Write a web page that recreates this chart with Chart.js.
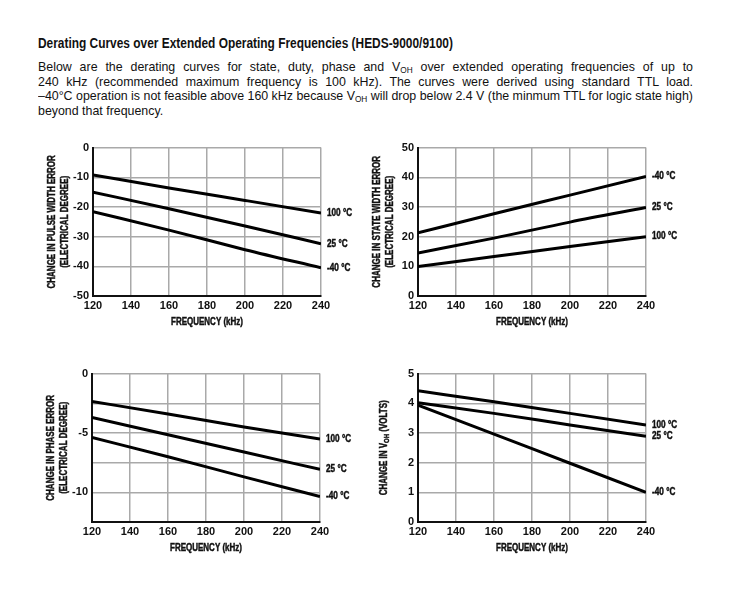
<!DOCTYPE html>
<html>
<head>
<meta charset="utf-8">
<script src="https://cdn.jsdelivr.net/npm/chart.js@4.4.1/dist/chart.umd.min.js"></script>
<style>
  body { margin: 0; background: #fff; color: #111; font-family: "Liberation Sans", Arial, sans-serif; }
  #head { position: absolute; left: 38px; top: 35px; font-weight: bold; font-size: 14px; white-space: nowrap; transform-origin: 0 0; }
  #text { position: absolute; left: 38px; top: 60px; font-size: 13.5px; line-height: 14.7px; transform-origin: 0 0; }
  #text .j { text-align: justify; text-align-last: justify; }
  #text .tight { white-space: nowrap; }
  sub { font-size: 9px; vertical-align: -2px; line-height: 0; }
  canvas { position: absolute; }
</style>
</head>
<body>
<div id="head">Derating Curves over Extended Operating Frequencies (HEDS-9000/9100)</div>
<div id="text">
  <div class="j">Below are the derating curves for state, duty, phase and V<sub>OH</sub> over extended operating frequencies of up to</div>
  <div class="j">240 kHz (recommended maximum frequency is 100 kHz). The curves were derived using standard TTL load.</div>
  <div class="j"><span class="tight" id="longLine">–40°C operation is not feasible above 160 kHz because V<sub>OH</sub> will drop below 2.4 V (the minmum TTL for logic state high)</span></div>
  <div>beyond that frequency.</div>
</div>

<canvas id="pulseChart" width="343" height="191" style="left:23px;top:137px"></canvas>
<canvas id="stateChart" width="343" height="191" style="left:348px;top:137px"></canvas>
<canvas id="phaseChart" width="343" height="191" style="left:22px;top:363px"></canvas>
<canvas id="vohChart" width="343" height="191" style="left:348px;top:363px"></canvas>

<script>
  const freqs = [120, 160, 200, 240];
  const tempLabels = ['100 °C', '25 °C', '-40 °C'];

  const pulse100 = [-9.2, -13.6, -17.8, -22.0];
  const pulse25 = [-15.0, -20.6, -26.4, -32.4];
  const pulseM40 = [-21.6, -27.8, -34.4, -40.5];

  const state100 = [9.9, 13.3, 16.7, 20.0];
  const state25 = [14.5, 19.5, 24.9, 29.8];
  const stateM40 = [21.3, 27.7, 34.0, 40.3];

  const phase100 = [-2.35, -3.4, -4.5, -5.5];
  const phase25 = [-3.7, -5.15, -6.6, -8.07];
  const phaseM40 = [-5.38, -7.0, -8.7, -10.36];

  const voh100 = [4.42, 4.05, 3.66, 3.27];
  const voh25 = [4.02, 3.66, 3.27, 2.89];
  const vohM40 = [3.94, 2.96, 1.98, 1.0];

  const FONT = '"Liberation Sans", Arial, sans-serif';
  const SQUEEZE = 0.8;

  // squeeze the heading and paragraph to the widths of the condensed original
  const head = document.getElementById('head');
  head.style.transform = 'scaleX(' + (415 / head.scrollWidth) + ')';
  const text = document.getElementById('text');
  const longW = document.getElementById('longLine').getBoundingClientRect().width;
  text.style.width = longW + 'px';
  text.style.transform = 'scaleX(' + (655 / longW) + ')';

  function boldText(ctx, s, x, y) {
    ctx.fillText(s, x, y);
    ctx.strokeText(s, x, y);
  }

  // axis titles and curve labels, drawn condensed
  const textPlugin = {
    id: 'yTitle',
    afterDraw(chart, args, opts) {
      const ctx = chart.ctx, a = chart.chartArea;
      const font = 'bold 10px ' + FONT, subFont = 'bold 7.5px ' + FONT;
      ctx.save();
      ctx.fillStyle = '#111';
      ctx.strokeStyle = '#111';
      ctx.lineWidth = 0.45;
      ctx.textBaseline = 'middle';
      ctx.textAlign = 'left';

      // y title (rotated)
      ctx.save();
      ctx.translate(a.left - 34, (a.top + a.bottom) / 2);
      ctx.rotate(-Math.PI / 2);
      ctx.scale(SQUEEZE, 1);
      const n = opts.lines.length;
      opts.lines.forEach((line, i) => {
        const y = (i - (n - 1) / 2) * 13;
        let w = 0;
        line.forEach(seg => { ctx.font = seg.sub ? subFont : font; w += ctx.measureText(seg.t).width; });
        let x = -w / 2;
        line.forEach(seg => {
          ctx.font = seg.sub ? subFont : font;
          boldText(ctx, seg.t, x, y + (seg.sub ? 3 : 0));
          x += ctx.measureText(seg.t).width;
        });
      });
      ctx.restore();

      // x title
      ctx.save();
      ctx.translate((a.left + a.right) / 2, a.bottom + 26);
      ctx.scale(SQUEEZE, 1);
      ctx.font = font;
      ctx.textAlign = 'center';
      boldText(ctx, 'FREQUENCY (kHz)', 0, 0);
      ctx.restore();

      // temperature labels at the right end of each curve
      chart.data.datasets.forEach((ds, i) => {
        const meta = chart.getDatasetMeta(i);
        const pt = meta.data[meta.data.length - 1];
        ctx.save();
        ctx.translate(a.right + 6, pt.y);
        ctx.scale(0.82, 1);
        ctx.font = font;
        boldText(ctx, ds.label, 0, 0);
        ctx.restore();
      });
      ctx.restore();
    }
  };

  function makeChart(id, series, yMin, yMax, step, titleLines, tickCb) {
    new Chart(document.getElementById(id), {
      type: 'line',
      data: {
        datasets: series.map((s, i) => ({
          label: tempLabels[i],
          data: freqs.map((f, j) => ({ x: f, y: s[j] })),
          borderColor: '#000',
          borderWidth: 3,
          pointRadius: 0,
          cubicInterpolationMode: 'monotone',
          fill: false
        }))
      },
      options: {
        responsive: false,
        animation: false,
        layout: { padding: { top: 10, right: 45, left: 0, bottom: 0 } },
        plugins: {
          legend: { display: false },
          tooltip: { enabled: false },
          yTitle: { lines: titleLines }
        },
        scales: {
          x: {
            type: 'linear', min: 120, max: 240,
            ticks: { stepSize: 20, padding: 3, color: '#111', font: { family: FONT, size: 11, weight: 'bold' } },
            grid: { color: '#a9a9a9', lineWidth: 1.5, drawTicks: false },
            border: { color: '#111', width: 2 },
            afterFit(scale) { scale.height = 32; }
          },
          y: {
            min: yMin, max: yMax,
            ticks: { stepSize: step, padding: 4, color: '#111', font: { family: FONT, size: 11, weight: 'bold' }, callback: tickCb },
            grid: { color: '#a9a9a9', lineWidth: 1.5, drawTicks: false },
            border: { color: '#111', width: 2 },
            afterFit(scale) { scale.width = 70; }
          }
        }
      },
      plugins: [textPlugin]
    });
  }

  const plain = v => v;

  makeChart('pulseChart', [pulse100, pulse25, pulseM40], -50, 0, 10,
    [[{ t: 'CHANGE IN PULSE WIDTH ERROR' }], [{ t: '(ELECTRICAL DEGREE)' }]], plain);
  makeChart('stateChart', [state100, state25, stateM40], 0, 50, 10,
    [[{ t: 'CHANGE IN STATE WIDTH ERROR' }], [{ t: '(ELECTRICAL DEGREE)' }]], plain);
  makeChart('phaseChart', [phase100, phase25, phaseM40], -12.5, 0, 2.5,
    [[{ t: 'CHANGE IN PHASE ERROR' }], [{ t: '(ELECTRICAL DEGREE)' }]], v => (v % 5 === 0 ? v : ''));
  makeChart('vohChart', [voh100, voh25, vohM40], 0, 5, 1,
    [[{ t: 'CHANGE IN V' }, { t: 'OH', sub: true }, { t: ' (VOLTS)' }]], plain);
</script>
</body>
</html>
